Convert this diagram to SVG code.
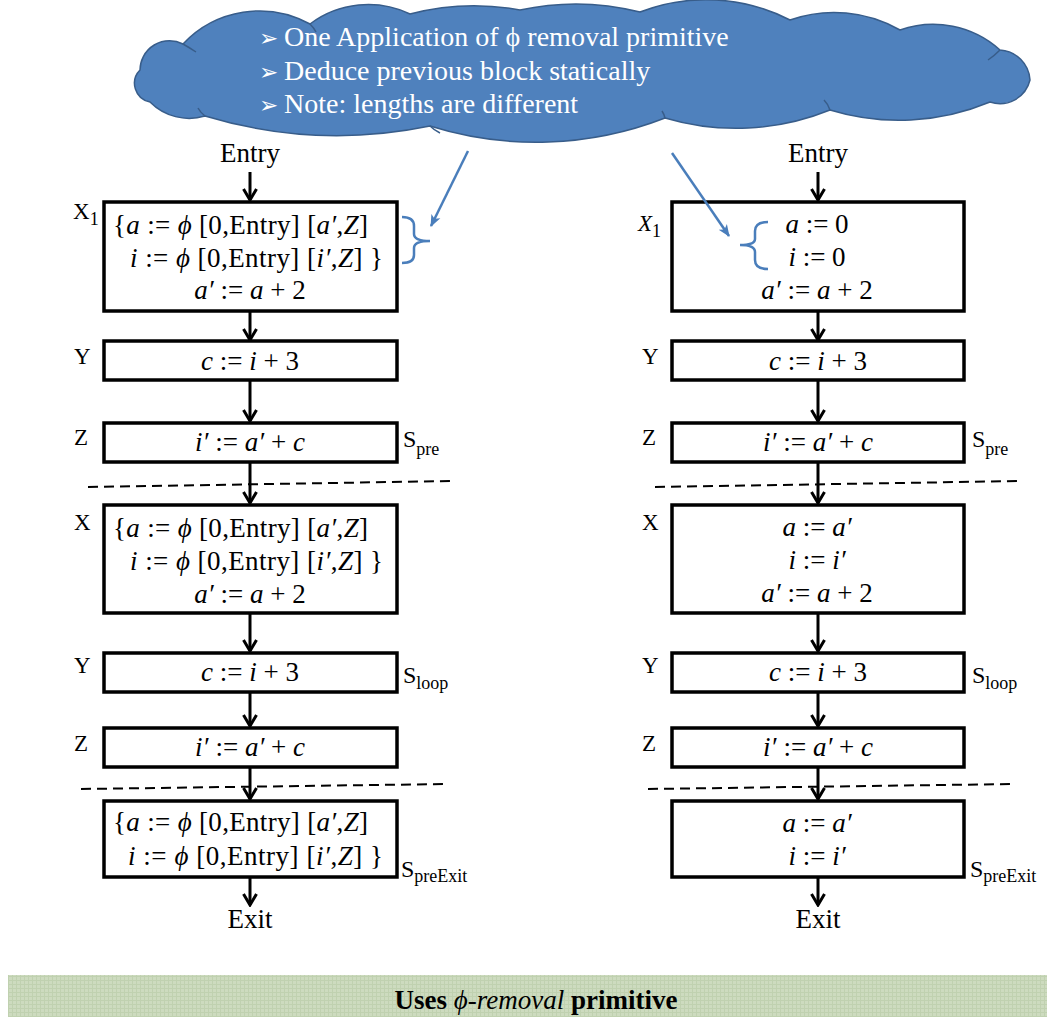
<svg xmlns="http://www.w3.org/2000/svg" width="1047" height="1017" viewBox="0 0 1047 1017">
<style>
.t{font-family:"Liberation Serif","Times New Roman",serif;font-size:27px;fill:#000}
.i{font-style:italic}
.lbl{font-family:"Liberation Serif","Times New Roman",serif;font-size:23px;fill:#000}
.s{font-family:"Liberation Serif","Times New Roman",serif;font-size:24px;fill:#000}
.sub{font-size:18px}
.box{fill:#fff;stroke:#000;stroke-width:3.5}
.arr{stroke:#000;stroke-width:3;fill:none;marker-end:url(#ah)}
.dash{stroke:#000;stroke-width:2;stroke-dasharray:10 6;fill:none}
.blue{stroke:#4a7ebb;stroke-width:2.5;fill:none}
.ct{font-family:"Liberation Serif","Times New Roman",serif;font-size:28px;fill:#fff}
.bul{font-family:"DejaVu Sans",sans-serif;font-size:23px;fill:#fff}
</style>
<defs>
<marker id="ah" viewBox="0 -8 14 16" markerWidth="14" markerHeight="16" refX="12" refY="0" orient="auto" markerUnits="userSpaceOnUse">
<path d="M1,-6.5 L12,0 L1,6.5" fill="none" stroke="#000" stroke-width="3"/>
</marker>
<marker id="bh" viewBox="0 -6 12 12" markerWidth="12" markerHeight="12" refX="11" refY="0" orient="auto" markerUnits="userSpaceOnUse">
<path d="M0,-5 L12,0 L0,5 L3,0 Z" fill="#4a7ebb"/>
</marker>
<pattern id="grid" width="4" height="4" patternUnits="userSpaceOnUse">
<rect width="4" height="4" fill="#cddbbf"/>
<path d="M0,0.5 H4 M0.5,0 V4" stroke="#c0d1b0" stroke-width="1"/>
</pattern>
</defs>

<g id="cloud">
<path d="M150,102 A19,19 0 0 1 140,70 A29.5,29.5 0 0 1 183,44 A105,105 0 0 1 310,24 A97,97 0 0 1 410,14 A255,255 0 0 1 520,10 A261,261 0 0 1 640,12 A184,184 0 0 1 790,20 A133,133 0 0 1 900,30 A100,100 0 0 1 1000,50 A32,32 0 0 1 1030,80 A31,31 0 0 1 990,102 A236,236 0 0 1 830,110 A250,250 0 0 1 665,118 A355,355 0 0 1 430,126 A459,459 0 0 1 205,116 A55,55 0 0 1 150,102 Z" fill="#4f81bd" stroke="#385d8a" stroke-width="1.5"/>
<path d="M430,126 Q434,130 440,133 M665,118 Q664,114 662,111 M205,116 Q200,112 198,108 M830,110 Q828,104 824,100 M183,44 Q190,48 196,52 M1000,50 Q994,56 988,60 M310,24 Q314,28 316,32" fill="none" stroke="#385d8a" stroke-width="1.5"/>
<text class="bul" x="259" y="46">➢</text><text class="ct" x="284" y="46">One Application of ϕ removal primitive</text>
<text class="bul" x="259" y="80">➢</text><text class="ct" x="284" y="80">Deduce previous block statically</text>
<text class="bul" x="259" y="113">➢</text><text class="ct" x="284" y="113">Note: lengths are different</text>
</g>

<g id="entryL"><text class="t" x="250" y="162" text-anchor="middle">Entry</text></g>
<g id="entryR"><text class="t" x="818" y="162" text-anchor="middle">Entry</text></g>

<g id="X1L">
<rect class="box" x="104" y="202" width="293" height="109"/>
<text class="lbl" x="73" y="219">X<tspan class="sub" dy="6">1</tspan></text>
<text class="t" x="113" y="234" textLength="255" lengthAdjust="spacing">{<tspan class="i">a</tspan> := <tspan class="i">ϕ</tspan> [0,Entry] [<tspan class="i">a′</tspan>,<tspan class="i">Z</tspan>]</text>
<text class="t" x="130" y="267" textLength="253" lengthAdjust="spacing"><tspan class="i">i</tspan> := <tspan class="i">ϕ</tspan> [0,Entry] [<tspan class="i">i′</tspan>,<tspan class="i">Z</tspan>] }</text>
<text class="t" x="250" y="299" text-anchor="middle"><tspan class="i">a′</tspan> := <tspan class="i">a</tspan> + 2</text>
</g>
<g id="YL">
<rect class="box" x="104" y="341" width="293" height="39"/>
<text class="lbl" x="74" y="364">Y</text>
<text class="t" x="250" y="370" text-anchor="middle"><tspan class="i">c</tspan> := <tspan class="i">i</tspan> + 3</text>
</g>
<g id="ZL">
<rect class="box" x="104" y="423" width="293" height="39"/>
<text class="lbl" x="74" y="445">Z</text>
<text class="t" x="250" y="451" text-anchor="middle"><tspan class="i">i′</tspan> := <tspan class="i">a′</tspan> + <tspan class="i">c</tspan></text>
<text class="s" x="403" y="447">S<tspan class="sub" dy="8">pre</tspan></text>
</g>
<g id="XL">
<rect class="box" x="104" y="505" width="293" height="108"/>
<text class="lbl" x="74" y="530">X</text>
<text class="t" x="113" y="537" textLength="255" lengthAdjust="spacing">{<tspan class="i">a</tspan> := <tspan class="i">ϕ</tspan> [0,Entry] [<tspan class="i">a′</tspan>,<tspan class="i">Z</tspan>]</text>
<text class="t" x="130" y="570" textLength="253" lengthAdjust="spacing"><tspan class="i">i</tspan> := <tspan class="i">ϕ</tspan> [0,Entry] [<tspan class="i">i′</tspan>,<tspan class="i">Z</tspan>] }</text>
<text class="t" x="250" y="603" text-anchor="middle"><tspan class="i">a′</tspan><tspan dx="7">:= </tspan><tspan class="i">a</tspan> + 2</text>
</g>
<g id="YL2">
<rect class="box" x="104" y="653" width="293" height="39"/>
<text class="lbl" x="74" y="673">Y</text>
<text class="t" x="250" y="681" text-anchor="middle"><tspan class="i">c</tspan> := <tspan class="i">i</tspan> + 3</text>
<text class="s" x="403" y="683">S<tspan class="sub" dy="6">loop</tspan></text>
</g>
<g id="ZL2">
<rect class="box" x="104" y="728" width="293" height="39"/>
<text class="lbl" x="74" y="751">Z</text>
<text class="t" x="250" y="756" text-anchor="middle"><tspan class="i">i′</tspan><tspan dx="7">:= </tspan><tspan class="i">a′</tspan> + <tspan class="i">c</tspan></text>
</g>
<g id="preExitL">
<rect class="box" x="104" y="801" width="293" height="76"/>
<text class="t" x="113" y="831" textLength="255" lengthAdjust="spacing">{<tspan class="i">a</tspan> := <tspan class="i">ϕ</tspan> [0,Entry] [<tspan class="i">a′</tspan>,<tspan class="i">Z</tspan>]</text>
<text class="t" x="128" y="865" textLength="255" lengthAdjust="spacing"><tspan class="i">i</tspan> := <tspan class="i">ϕ</tspan> [0,Entry] [<tspan class="i">i′</tspan>,<tspan class="i">Z</tspan>] }</text>
<text class="s" x="401" y="877">S<tspan class="sub" dy="5">preExit</tspan></text>
</g>
<g id="exitL"><text class="t" x="250" y="928" text-anchor="middle">Exit</text></g>

<g id="X1R">
<rect class="box" x="672" y="202" width="292" height="109"/>
<text class="lbl i" x="638" y="231">X<tspan class="sub" dy="6" font-style="normal">1</tspan></text>
<text class="t" x="817" y="233" text-anchor="middle"><tspan class="i">a</tspan> := 0</text>
<text class="t" x="817" y="266" text-anchor="middle"><tspan class="i">i</tspan> := 0</text>
<text class="t" x="817" y="299" text-anchor="middle"><tspan class="i">a′</tspan> := <tspan class="i">a</tspan> + 2</text>
</g>
<g id="YR">
<rect class="box" x="672" y="341" width="292" height="39"/>
<text class="lbl" x="642" y="364">Y</text>
<text class="t" x="818" y="370" text-anchor="middle"><tspan class="i">c</tspan> := <tspan class="i">i</tspan> + 3</text>
</g>
<g id="ZR">
<rect class="box" x="672" y="423" width="292" height="39"/>
<text class="lbl" x="642" y="445">Z</text>
<text class="t" x="818" y="451" text-anchor="middle"><tspan class="i">i′</tspan> := <tspan class="i">a′</tspan> + <tspan class="i">c</tspan></text>
<text class="s" x="972" y="447">S<tspan class="sub" dy="8">pre</tspan></text>
</g>
<g id="XR">
<rect class="box" x="672" y="505" width="292" height="108"/>
<text class="lbl" x="642" y="530">X</text>
<text class="t" x="817" y="536" text-anchor="middle"><tspan class="i">a</tspan> := <tspan class="i">a′</tspan></text>
<text class="t" x="817" y="569" text-anchor="middle"><tspan class="i">i</tspan> := <tspan class="i">i′</tspan></text>
<text class="t" x="817" y="602" text-anchor="middle"><tspan class="i">a′</tspan> := <tspan class="i">a</tspan> + 2</text>
</g>
<g id="YR2">
<rect class="box" x="672" y="653" width="292" height="39"/>
<text class="lbl" x="642" y="673">Y</text>
<text class="t" x="818" y="681" text-anchor="middle"><tspan class="i">c</tspan> := <tspan class="i">i</tspan> + 3</text>
<text class="s" x="972" y="683">S<tspan class="sub" dy="6">loop</tspan></text>
</g>
<g id="ZR2">
<rect class="box" x="672" y="728" width="292" height="39"/>
<text class="lbl" x="642" y="751">Z</text>
<text class="t" x="818" y="756" text-anchor="middle"><tspan class="i">i′</tspan><tspan dx="7">:= </tspan><tspan class="i">a′</tspan> + <tspan class="i">c</tspan></text>
</g>
<g id="preExitR">
<rect class="box" x="672" y="801" width="292" height="76"/>
<text class="t" x="817" y="832" text-anchor="middle"><tspan class="i">a</tspan> := <tspan class="i">a′</tspan></text>
<text class="t" x="817" y="865" text-anchor="middle"><tspan class="i">i</tspan> := <tspan class="i">i′</tspan></text>
<text class="s" x="970" y="877">S<tspan class="sub" dy="5">preExit</tspan></text>
</g>
<g id="exitR"><text class="t" x="818" y="928" text-anchor="middle">Exit</text></g>

<g id="connectors">
<line class="arr" x1="250" y1="172" x2="250" y2="200"/>
<line class="arr" x1="250" y1="311" x2="250" y2="340"/>
<line class="arr" x1="250" y1="380" x2="250" y2="421"/>
<line class="arr" x1="250" y1="462" x2="250" y2="503"/>
<line class="arr" x1="250" y1="613" x2="250" y2="651"/>
<line class="arr" x1="250" y1="692" x2="250" y2="726"/>
<line class="arr" x1="250" y1="767" x2="250" y2="799"/>
<line class="arr" x1="250" y1="877" x2="250" y2="905"/>
<line class="arr" x1="818" y1="172" x2="818" y2="200"/>
<line class="arr" x1="818" y1="311" x2="818" y2="340"/>
<line class="arr" x1="818" y1="380" x2="818" y2="421"/>
<line class="arr" x1="818" y1="462" x2="818" y2="503"/>
<line class="arr" x1="818" y1="613" x2="818" y2="651"/>
<line class="arr" x1="818" y1="692" x2="818" y2="726"/>
<line class="arr" x1="818" y1="767" x2="818" y2="799"/>
<line class="arr" x1="818" y1="877" x2="818" y2="905"/>
<line class="dash" x1="88" y1="487" x2="453" y2="481"/>
<line class="dash" x1="81" y1="789" x2="447" y2="784"/>
<line class="dash" x1="655" y1="487" x2="1021" y2="481"/>
<line class="dash" x1="648" y1="789" x2="1014" y2="784"/>
<line class="blue" x1="468" y1="151" x2="431" y2="226" marker-end="url(#bh)"/>
<line class="blue" x1="672" y1="153" x2="729" y2="236" marker-end="url(#bh)"/>
<path class="blue" d="M402,217 Q414,217 414,226 L414,234 Q414,241 430,241 Q414,241 414,248 L414,255 Q414,263 402,263"/>
<path class="blue" d="M768,222 Q755,222 755,231 L755,239 Q755,245 740,245 Q755,245 755,252 L755,260 Q755,269 768,269"/>
</g>

<g id="banner">
<rect x="8" y="975" width="1039" height="42" fill="url(#grid)"/>
<text x="536" y="1009" text-anchor="middle" font-family="'Liberation Serif','Times New Roman',serif" font-weight="bold" font-size="27" fill="#000">Uses <tspan font-style="italic" font-weight="normal">ϕ-removal</tspan> primitive</text>
</g>
</svg>
